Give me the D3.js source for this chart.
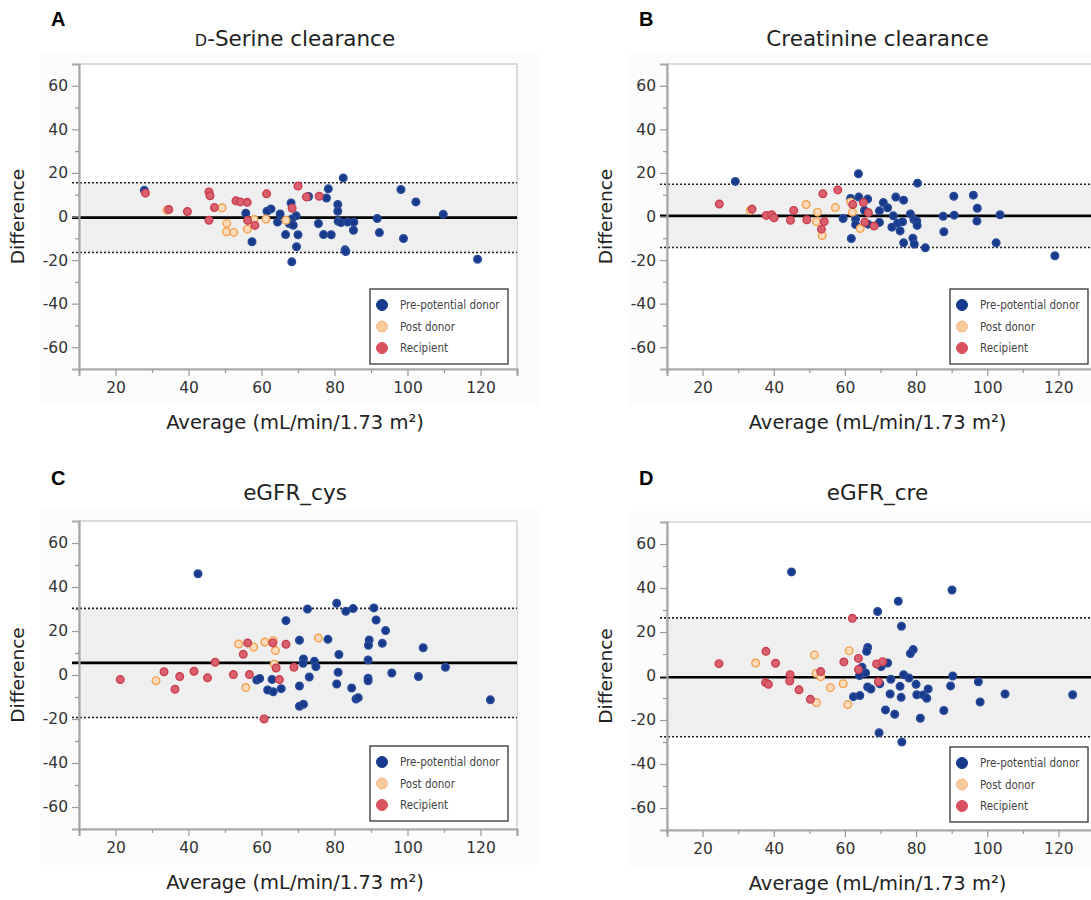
<!DOCTYPE html>
<html>
<head>
<meta charset="utf-8">
<script src="https://cdn.jsdelivr.net/npm/d3@7"></script>
<style>
  body { margin: 0; background: #fff; }
  svg { display: block; }
</style>
</head>
<body>
<div id="chart"></div>
<script>
// ---- data ----
const panelLetters = ["A", "B", "C", "D"];
const panelTitles = ["D-Serine clearance", "Creatinine clearance", "eGFR_cys", "eGFR_cre"];
const groupNames = ["Pre-potential donor", "Post donor", "Recipient"];
const xTicks = [20, 40, 60, 80, 100, 120];
const xMinorTicks = [10, 30, 50, 70, 90, 110, 130];
const yTicks = [-60, -40, -20, 0, 20, 40, 60];
const yMinorTicks = [-50, -30, -10, 10, 30, 50];
const meanDiff = [-0.5, 0.3, 5.5, -0.6];
const upperLoA = [15.5, 14.8, 30.3, 26.4];
const lowerLoA = [-16.5, -14.2, -19.3, -27.6];

// A: D-serine clearance  [average, difference]
const serinePre = [[27.9,12.0],[82.4,17.7],[98.2,12.4],[102.3,6.7],[109.8,1.0],[119.2,-19.6],[72.9,9.2],[78.3,12.7],
  [77.8,8.5],[80.9,5.5],[80.9,2.4],[68.1,6.2],[62.6,3.5],[61.5,2.4],[55.7,1.5],[65.1,1.2],[69.5,0.3],[68.3,-1.2],
  [64.4,-2.5],[67.6,-3.2],[68.7,-4.0],[75.6,-3.2],[81.0,-2.2],[81.8,-2.8],[83.6,-2.5],[85.3,-2.6],[85.2,-6.3],
  [91.7,-0.9],[92.3,-7.4],[98.9,-10.1],[66.6,-8.3],[70.0,-8.4],[77.0,-8.3],[79.1,-8.4],[57.4,-11.6],[69.6,-13.9],
  [82.9,-15.3],[83.1,-16.1],[68.3,-20.8]];
const serinePost = [[34.1,2.9],[49.2,4.0],[50.5,-3.2],[50.4,-7.0],[52.4,-7.3],[56.1,-5.8],[58.0,-1.4],[61.2,-1.2],[66.7,-1.7]];
const serineRec = [[28.2,10.7],[34.6,3.2],[39.7,2.3],[45.6,11.3],[45.9,9.5],[47.1,4.1],[45.6,-1.7],[53.0,7.2],
  [54.2,6.7],[56.1,6.5],[61.4,10.4],[56.2,-1.8],[58.2,-4.1],[68.4,3.8],[70.0,14.0],[72.3,9.0],[75.8,9.3]];

// B: creatinine clearance
const creatPre = [[29.2,16.1],[63.8,19.6],[80.4,15.3],[61.6,8.3],[63.9,8.9],[66.4,8.0],[74.3,8.9],[76.5,7.5],
  [70.8,6.4],[72.0,4.0],[69.7,2.6],[65.5,2.8],[73.6,0.3],[78.4,1.2],[59.5,-0.9],[63.0,-1.2],[63.0,-3.7],[66.5,-3.5],
  [69.7,-2.7],[74.8,-3.1],[76.2,-2.4],[73.2,-4.9],[75.5,-6.6],[79.4,-1.4],[80.2,-2.1],[80.3,-4.1],[79.1,-10.0],
  [79.5,-12.7],[76.5,-12.1],[82.6,-14.4],[61.8,-10.1],[87.6,0.1],[90.7,0.6],[87.8,-7.0],[90.6,9.3],[96.1,9.8],
  [97.2,3.8],[97.1,-2.1],[103.6,0.8],[102.5,-12.1],[119.0,-18.0]];
const creatPost = [[33.4,2.8],[49.1,5.5],[52.3,2.0],[52.0,-2.3],[53.6,-8.7],[57.3,4.1],[61.6,6.7],[62.1,2.0],[64.3,-5.5]];
const creatRec = [[24.7,5.7],[33.9,3.4],[37.9,0.5],[39.4,0.8],[40.1,-0.6],[45.6,2.8],[44.7,-1.7],[49.3,-1.5],
  [54.2,-2.3],[53.4,-5.8],[53.8,10.4],[58.0,12.2],[62.2,5.5],[65.2,6.4],[66.6,1.8],[65.6,-2.6],[68.2,-4.4]];

// C: eGFR_cys
const cysPre = [[42.6,46.0],[80.6,32.6],[72.6,30.0],[83.1,29.0],[85.1,30.2],[90.8,30.5],[91.4,25.0],[94.0,20.2],
  [66.7,24.7],[70.4,15.8],[78.2,16.2],[89.5,15.9],[89.3,13.5],[93.1,14.4],[104.3,12.4],[81.2,9.3],[71.5,7.3],
  [71.4,5.3],[74.5,6.2],[74.9,3.8],[89.2,6.8],[110.4,3.5],[81.0,1.2],[95.7,0.9],[103.0,-0.7],[73.1,-0.9],
  [89.2,-1.5],[89.2,-2.6],[58.7,-2.3],[59.5,-1.6],[62.9,-2.0],[70.4,-5.0],[80.6,-4.1],[61.7,-6.8],[63.2,-7.6],
  [65.4,-6.2],[84.7,-5.9],[85.9,-10.9],[86.5,-10.3],[70.4,-14.2],[71.5,-13.3],[122.7,-11.3]];
const cysPost = [[31.1,-2.6],[53.7,14.1],[57.9,12.7],[60.9,15.0],[63.2,15.6],[63.8,11.1],[63.5,4.9],[75.6,16.8],[55.7,-5.7]];
const cysRec = [[21.3,-2.1],[33.3,1.5],[37.6,-0.7],[36.3,-6.5],[41.5,1.7],[45.2,-1.3],[47.3,5.8],[52.3,0.2],
  [55.0,9.4],[56.2,14.6],[56.7,0.2],[63.1,14.6],[66.7,14.0],[64.0,3.2],[64.9,-2.1],[68.9,3.5],[60.7,-20.0]];

// D: eGFR_cre
const crePre = [[45.0,47.3],[90.1,39.1],[75.0,34.0],[69.2,29.3],[75.9,22.6],[66.4,13.0],[66.1,11.2],[79.2,12.0],
  [78.4,10.2],[72.0,5.9],[70.2,4.3],[64.8,4.0],[65.8,1.4],[64.1,0.2],[76.5,0.6],[78.0,-0.9],[90.3,0.0],[69.8,-3.5],
  [72.9,-1.5],[75.5,-4.7],[80.0,-3.8],[83.4,-5.9],[89.7,-4.5],[97.5,-2.6],[66.4,-5.0],[67.3,-5.9],[62.4,-9.4],
  [64.2,-8.9],[72.7,-8.2],[75.8,-9.7],[80.2,-8.5],[82.0,-8.6],[83.0,-10.1],[98.0,-11.8],[105.0,-8.2],[124.0,-8.5],
  [71.4,-15.4],[74.0,-17.4],[81.2,-19.2],[87.8,-15.7],[69.6,-25.8],[76.0,-30.0]];
const crePost = [[34.9,5.9],[51.4,9.6],[51.9,1.2],[53.2,-0.3],[55.9,-5.3],[52.0,-12.1],[59.5,-3.5],[61.2,11.5],[60.8,-13.0]];
const creRec = [[24.6,5.6],[37.8,11.2],[40.5,5.8],[37.7,-3.0],[38.5,-3.8],[44.6,0.6],[44.5,-2.3],[47.1,-6.3],
  [50.3,-10.6],[53.2,2.0],[59.7,6.4],[63.8,8.0],[62.1,26.2],[63.8,2.9],[68.9,5.5],[70.6,6.5],[69.4,-2.6]];

const panelData = [
  [serinePre, serinePost, serineRec],
  [creatPre, creatPost, creatRec],
  [cysPre, cysPost, cysRec],
  [crePre, crePost, creRec]
];

// ---- styling ----
const groupFill = ["#173a8d", "#fcdcbc", "#d9606c"];
const groupStroke = ["#2a4c98", "#f3a24f", "#c93f4f"];
const legendFill = ["#173a8d", "#f9c99c", "#d9515f"];
const font = "'DejaVu Sans', Verdana, sans-serif";

// plot boxes (pixel layout of each panel)
const boxes = [
  {left: 79,  top: 64,  width: 438, height: 305, letterX: 51,  letterY: 26, titleY: 46},
  {left: 667, top: 64,  width: 427, height: 305, letterX: 639, letterY: 26, titleY: 46},
  {left: 79,  top: 521, width: 438, height: 308, letterX: 51,  letterY: 485, titleY: 500},
  {left: 667, top: 522, width: 427, height: 308, letterX: 639, letterY: 485, titleY: 500}
];

const svg = d3.select("#chart").append("svg")
  .attr("width", 1091)
  .attr("height", 900)
  .style("font-family", font);

boxes.forEach(function(b, i) {
  const g = svg.append("g");
  const x = d3.scaleLinear().domain([10, 130]).range([b.left, b.left + b.width]);
  const y = d3.scaleLinear().domain([-70, 70]).range([b.top + b.height, b.top]);
  const cx = b.left + b.width / 2 - 3;

  // faint frame behind the plot
  g.append("rect")
    .attr("x", b.left - 39).attr("y", b.top - 11)
    .attr("width", b.width + 62).attr("height", b.height + 47)
    .attr("fill", "#fcfcfc");

  g.append("rect")
    .attr("x", b.left).attr("y", b.top)
    .attr("width", b.width).attr("height", b.height)
    .attr("fill", "#fff")
    .attr("stroke", "#cfcfcf")
    .attr("stroke-width", 1.5);

  // limits of agreement band
  g.append("rect")
    .attr("x", b.left).attr("width", b.width)
    .attr("y", y(upperLoA[i]))
    .attr("height", y(lowerLoA[i]) - y(upperLoA[i]))
    .attr("fill", "#efefef");

  [upperLoA[i], lowerLoA[i]].forEach(function(v) {
    g.append("line")
      .attr("x1", b.left - 7).attr("x2", b.left + b.width)
      .attr("y1", y(v)).attr("y2", y(v))
      .attr("stroke", "#222")
      .attr("stroke-width", 1.6)
      .attr("stroke-dasharray", "2,2");
  });

  g.append("line")
    .attr("x1", b.left - 7).attr("x2", b.left + b.width)
    .attr("y1", y(meanDiff[i])).attr("y2", y(meanDiff[i]))
    .attr("stroke", "#000")
    .attr("stroke-width", 2.6);

  // axes
  const yAxis = g.append("g")
    .attr("transform", "translate(" + b.left + ",0)")
    .call(d3.axisLeft(y).tickValues(yTicks).tickSize(7).tickPadding(4).tickFormat(d => String(d)));
  g.append("g")
    .attr("transform", "translate(" + b.left + ",0)")
    .call(d3.axisLeft(y).tickValues(yMinorTicks).tickSize(4).tickFormat(""))
    .call(a => a.select(".domain").remove());
  const xAxis = g.append("g")
    .attr("transform", "translate(0," + (b.top + b.height) + ")")
    .call(d3.axisBottom(x).tickValues(xTicks).tickSize(7).tickPadding(6));
  g.append("g")
    .attr("transform", "translate(0," + (b.top + b.height) + ")")
    .call(d3.axisBottom(x).tickValues(xMinorTicks).tickSize(4).tickFormat(""))
    .call(a => a.select(".domain").remove());

  g.selectAll(".tick line").attr("stroke", "#9a9a9a").attr("stroke-width", 1.2);
  [yAxis, xAxis].forEach(function(a) {
    a.select(".domain").attr("stroke", "#a8a8a8").attr("stroke-width", 2.2);
    a.selectAll(".tick text")
      .attr("fill", "#333")
      .style("font-family", font)
      .style("font-size", "15.5px");
  });

  // points
  [0, 1, 2].forEach(function(k) {
    g.append("g").selectAll("circle")
      .data(panelData[i][k])
      .enter()
      .append("circle")
      .attr("cx", d => x(d[0]))
      .attr("cy", d => y(d[1]))
      .attr("r", 3.8)
      .attr("fill", groupFill[k])
      .attr("stroke", groupStroke[k])
      .attr("stroke-width", 1.4);
  });

  // legend
  const lx = b.left + b.width - (i % 2 === 0 ? 147 : 144);
  const ly = b.top + 225;
  const leg = g.append("g").attr("transform", "translate(" + lx + "," + ly + ")");
  leg.append("rect")
    .attr("width", 138).attr("height", 75)
    .attr("fill", "#fff")
    .attr("stroke", "#333")
    .attr("stroke-width", 1.3);
  groupNames.forEach(function(name, k) {
    leg.append("circle")
      .attr("cx", 12).attr("cy", 16 + k * 21.5)
      .attr("r", 5.5)
      .attr("fill", legendFill[k])
      .attr("stroke", k === 1 ? "#f6b98a" : legendFill[k])
      .attr("stroke-width", 1);
    leg.append("text")
      .attr("x", 30).attr("y", 16 + k * 21.5)
      .attr("dy", "0.35em")
      .attr("fill", "#444")
      .style("font-family", "'DejaVu Sans Condensed', 'DejaVu Sans', sans-serif")
      .style("font-size", "11.5px")
      .text(name);
  });

  // titles
  const title = g.append("text")
    .attr("x", cx).attr("y", b.titleY)
    .attr("text-anchor", "middle")
    .attr("fill", "#222")
    .style("font-size", "21.5px");
  if (i === 0) {
    title.append("tspan").style("font-size", "16px").text("D");
    title.append("tspan").text("-Serine clearance");
  } else {
    title.text(panelTitles[i]);
  }

  svg.append("text")
    .attr("x", b.letterX).attr("y", b.letterY)
    .style("font-family", "'Liberation Sans', Arial, sans-serif")
    .style("font-weight", "bold")
    .style("font-size", "20px")
    .attr("fill", "#000")
    .text(panelLetters[i]);

  g.append("text")
    .attr("x", cx).attr("y", b.top + b.height + 60)
    .attr("text-anchor", "middle")
    .attr("fill", "#222")
    .style("font-size", "19.5px")
    .text("Average (mL/min/1.73 m²)");

  g.append("text")
    .attr("transform", "translate(" + (b.left - 55) + "," + y(0) + ") rotate(-90)")
    .attr("text-anchor", "middle")
    .attr("fill", "#222")
    .style("font-size", "18.5px")
    .text("Difference");
});
</script>
</body>
</html>
